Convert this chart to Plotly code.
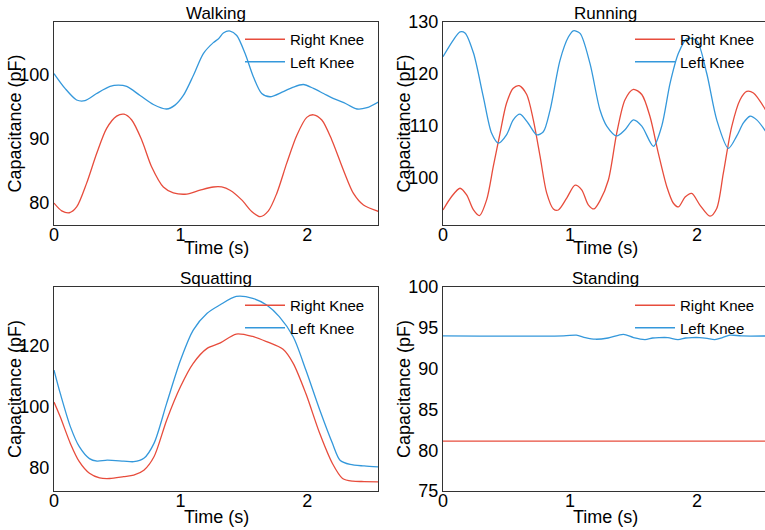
import plotly.graph_objects as go

RED = "#e74c3c"
BLUE = "#3498db"
FONT = "Liberation Sans, Arial, sans-serif"

# ---------------- data ----------------
walk_left_t = [0, 0.087, 0.179, 0.245, 0.337, 0.443, 0.508, 0.574, 0.68, 0.785, 0.89, 0.956,
               1.022, 1.101, 1.18, 1.259, 1.3, 1.338, 1.391, 1.444, 1.51, 1.575, 1.641, 1.707,
               1.812, 1.891, 1.97, 2.05, 2.13, 2.21, 2.29, 2.394, 2.473, 2.565]
walk_left = [100.1, 97.8, 96.0, 95.9, 97.0, 98.1, 98.3, 98.1, 96.7, 95.3, 94.6, 95.2,
             96.7, 99.8, 103.2, 104.9, 105.5, 106.4, 106.7, 106.0, 103.2, 99.6, 97.0, 96.5,
             97.3, 98.0, 98.4, 97.8, 97.0, 96.2, 95.6, 94.6, 94.8, 95.7]

walk_right_t = [0, 0.061, 0.121, 0.179, 0.258, 0.337, 0.416, 0.495, 0.553, 0.614, 0.693, 0.772,
                0.864, 0.943, 1.049, 1.154, 1.259, 1.325, 1.391, 1.483, 1.562, 1.628, 1.694,
                1.76, 1.839, 1.918, 1.997, 2.05, 2.116, 2.195, 2.287, 2.366, 2.445, 2.565]
walk_right = [80.0, 78.8, 78.5, 79.4, 83.1, 87.7, 91.6, 93.5, 93.8, 92.9, 89.8, 85.6,
              82.5, 81.6, 81.4, 82.0, 82.5, 82.5, 82.0, 80.5, 78.7, 77.9, 78.8,
              81.5, 86.2, 90.5, 93.3, 93.7, 92.9, 89.8, 85.1, 81.5, 79.7, 78.7]

run_left_t = [0, 0.081, 0.134, 0.173, 0.24, 0.317, 0.383, 0.436, 0.5, 0.553, 0.606, 0.672,
              0.738, 0.79, 0.843, 0.921, 0.987, 1.026, 1.079, 1.157, 1.236, 1.289, 1.368,
              1.433, 1.499, 1.565, 1.657, 1.722, 1.788, 1.854, 1.92, 1.997, 2.076, 2.155,
              2.247, 2.313, 2.365, 2.417, 2.47, 2.56]
run_left = [123.3, 126.5, 128.1, 127.9, 124.0, 115.6, 108.5, 106.6, 108.2, 111.1, 112.2, 110.4,
            108.2, 108.8, 113.0, 122.6, 127.1, 128.3, 127.8, 122.0, 113.0, 109.9, 108.0,
            109.2, 111.1, 109.9, 106.0, 109.9, 118.2, 124.0, 126.8, 126.4, 120.1, 111.1,
            105.6, 108.0, 110.5, 111.8, 111.1, 108.2]

run_right_t = [0, 0.068, 0.134, 0.186, 0.24, 0.286, 0.344, 0.396, 0.449, 0.5, 0.553, 0.6,
               0.659, 0.711, 0.764, 0.816, 0.869, 0.908, 0.974, 1.04, 1.092, 1.144, 1.189,
               1.236, 1.302, 1.368, 1.433, 1.499, 1.565, 1.63, 1.696, 1.762, 1.814, 1.854,
               1.906, 1.958, 2.024, 2.102, 2.155, 2.207, 2.273, 2.339, 2.391, 2.444, 2.56]
run_right = [93.7, 96.3, 97.9, 96.6, 93.7, 92.6, 95.7, 102.1, 108.5, 114.3, 117.2, 117.7,
             116.0, 111.1, 104.1, 97.0, 93.9, 93.7, 96.0, 98.5, 97.6, 94.7, 93.9,
             95.5, 99.5, 108.6, 115.0, 117.0, 116.0, 111.7, 104.6, 98.2, 95.0, 94.3,
             96.2, 96.9, 94.6, 92.5, 94.0, 100.8, 109.8, 115.0, 116.6, 116.3, 112.2]

squat_left_t = [0, 0.05, 0.13, 0.2, 0.28, 0.34, 0.42, 0.55, 0.63, 0.71, 0.79, 0.89, 1.0, 1.1,
                1.21, 1.31, 1.44, 1.57, 1.68, 1.78, 1.89, 1.99, 2.1, 2.2, 2.26, 2.34, 2.45, 2.56]
squat_left = [112.1, 104.4, 93.5, 87.0, 83.1, 82.3, 82.6, 82.3, 82.1, 83.2, 88.1, 101.2, 115.4,
              125.2, 130.7, 133.4, 136.2, 135.6, 133.4, 129.6, 123.0, 112.1, 99.0, 88.1, 82.6,
              81.2, 80.7, 80.4]

squat_right_t = [0, 0.05, 0.13, 0.2, 0.28, 0.36, 0.44, 0.55, 0.63, 0.71, 0.79, 0.89, 1.0, 1.1,
                 1.21, 1.31, 1.44, 1.57, 1.68, 1.81, 1.89, 1.99, 2.1, 2.2, 2.28, 2.36, 2.45, 2.56]
squat_right = [101.6, 96.7, 88.0, 82.1, 78.3, 76.8, 76.6, 77.2, 77.7, 79.3, 83.7, 95.7, 106.7,
               114.3, 119.2, 120.9, 123.9, 123.1, 121.4, 118.9, 114.3, 104.4, 91.3, 81.5, 76.6,
               75.7, 75.6, 75.5]

stand_left_t = [0, 0.95, 1.05, 1.12, 1.2, 1.3, 1.42, 1.5, 1.59, 1.65, 1.7, 1.77, 1.85, 1.91,
                1.96, 2.02, 2.08, 2.14, 2.2, 2.26, 2.35, 2.56]
stand_left = [94.0, 94.0, 94.1, 93.8, 93.6, 93.75, 94.2, 93.8, 93.56, 93.75, 93.8, 93.8, 93.56,
              93.75, 93.8, 93.8, 93.7, 93.56, 93.8, 94.1, 94.0, 94.0]

stand_right_t = [0, 0.5, 1.0, 1.5, 2.0, 2.56]
stand_right = [81.1, 81.1, 81.1, 81.1, 81.1, 81.1]

panels = [
    ("Walking", walk_right_t, walk_right, walk_left_t, walk_left),
    ("Running", run_right_t, run_right, run_left_t, run_left),
    ("Squatting", squat_right_t, squat_right, squat_left_t, squat_left),
    ("Standing", stand_right_t, stand_right, stand_left_t, stand_left),
]
y_ranges = [[76.6, 108.1], [90.8, 130], [72.5, 139.3], [75, 100]]
y_ticks = [[80, 90, 100], [100, 110, 120, 130], [80, 100, 120], [75, 80, 85, 90, 95, 100]]
x_ticks = [0, 1, 2]
x_title = "Time (s)"
y_title = "Capacitance (pF)"

# ---------------- layout geometry (pixels) ----------------
W, H = 765, 530
ML, MR, MT, MB = 54, 0, 22, 39
PW, PH = W - ML - MR, H - MT - MB


def px_x(p):
    return (p - ML) / PW


def px_y(p):
    return (H - MB - p) / PH


col_dom = [[px_x(54), px_x(378)], [px_x(443), px_x(765)]]
row_dom = [[px_y(225), px_y(22)], [px_y(491), px_y(287)]]
x_ranges = [[0, 2.56], [0, 2.535]]

fig = go.Figure()
layout = dict(
    width=W, height=H,
    margin=dict(l=ML, r=MR, t=MT, b=MB, autoexpand=False),
    paper_bgcolor="white", plot_bgcolor="white",
    font=dict(family=FONT, size=18, color="black"),
    showlegend=True,
    annotations=[],
)

legend_names = ["legend", "legend2", "legend3", "legend4"]

for i, (title, rt, rv, lt, lv) in enumerate(panels):
    r, c = divmod(i, 2)
    n = "" if i == 0 else str(i + 1)
    leg = legend_names[i]
    fig.add_trace(go.Scatter(x=rt, y=rv, mode="lines", name="Right Knee",
                             line=dict(color=RED, width=1.3, shape="spline", smoothing=0.8),
                             xaxis="x" + n, yaxis="y" + n, legend=leg))
    fig.add_trace(go.Scatter(x=lt, y=lv, mode="lines", name="Left Knee",
                             line=dict(color=BLUE, width=1.3, shape="spline", smoothing=0.8),
                             xaxis="x" + n, yaxis="y" + n, legend=leg))
    layout["xaxis" + n] = dict(
        domain=col_dom[c], anchor="y" + n, range=x_ranges[c],
        tickvals=x_ticks, ticks="", showgrid=False, zeroline=False,
        showline=True, linecolor="#333", linewidth=1, mirror=True,
        tickfont=dict(size=18), ticklabelstandoff=-7, automargin=False,
    )
    layout["yaxis" + n] = dict(
        domain=row_dom[r], anchor="x" + n, range=y_ranges[i],
        tickvals=y_ticks[i], ticks="", showgrid=False, zeroline=False,
        showline=True, linecolor="#333", linewidth=1, mirror=(c == 0),
        tickfont=dict(size=18), ticklabelstandoff=0, automargin=False,
    )
    x0 = 54 if c == 0 else 443
    cx = (54 + 378) / 2 if c == 0 else 605.5
    top = 22 if r == 0 else 287
    bot = 225 if r == 0 else 491
    # subplot title
    layout["annotations"].append(dict(
        text=title, xref="paper", yref="paper", x=px_x(cx), y=px_y(top - 9),
        xanchor="center", yanchor="middle", showarrow=False, font=dict(size=17),
    ))
    # x-axis title
    layout["annotations"].append(dict(
        text=x_title, xref="paper", yref="paper", x=px_x(cx),
        y=px_y(bot + (23 if r == 0 else 26)),
        xanchor="center", yanchor="middle", showarrow=False, font=dict(size=18),
    ))
    # y-axis title
    layout["annotations"].append(dict(
        text=y_title, xref="paper", yref="paper", x=px_x(x0 - 39), y=px_y((top + bot) / 2),
        xanchor="center", yanchor="middle", showarrow=False, textangle=-90,
        font=dict(size=18),
    ))
    lx = 240 if c == 0 else 630
    ly = 23 if r == 0 else 289
    layout[leg] = dict(
        x=px_x(lx), y=px_y(ly), xanchor="left", yanchor="top",
        bgcolor="rgba(0,0,0,0)", borderwidth=0, font=dict(size=15),
        tracegroupgap=0, itemwidth=40,
    )

fig.update_layout(**layout)
fig.write_html("out.html", config={"displayModeBar": False},
               post_script="document.body.style.margin='0';")
